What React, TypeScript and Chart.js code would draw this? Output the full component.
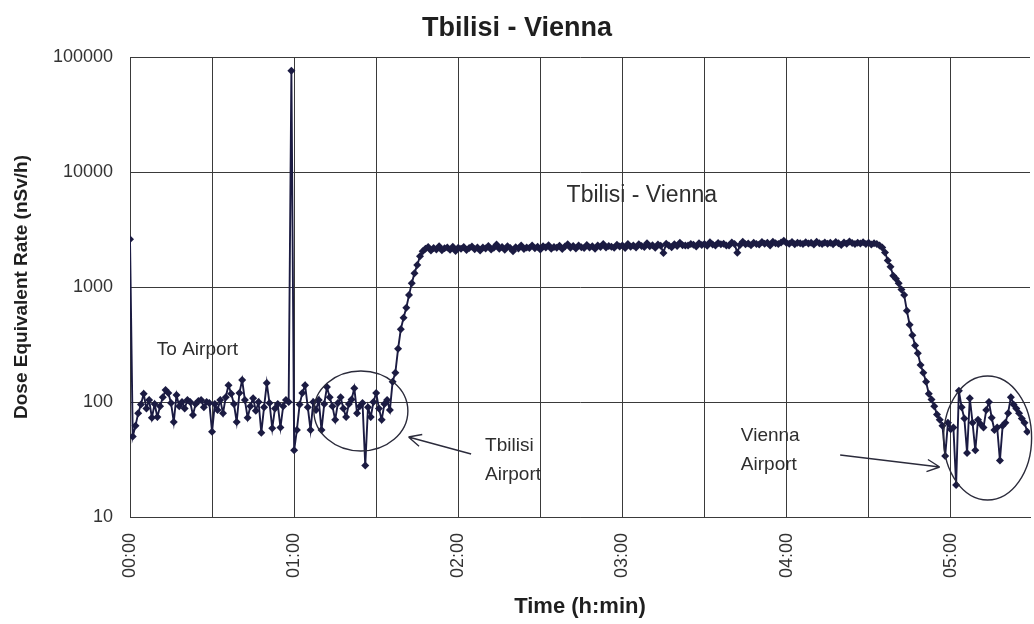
import React, { useEffect, useRef } from "react";
import { Chart, registerables } from "chart.js";

Chart.register(...registerables);

// ---- Text ----
const chartTitle = "Tbilisi - Vienna";
const yAxisTitle = "Dose Equivalent Rate (nSv/h)";
const xAxisTitle = "Time (h:min)";

// ---- Axes ----
const yTickValues = [10, 100, 1000, 10000, 100000];
const hourLabels = ["00:00", "01:00", "02:00", "03:00", "04:00", "05:00"];
const xMaxMinutes = 329;

// ---- Dose equivalent rate (nSv/h), one reading per minute ----
// 00:00 - 01:35 : to airport / Tbilisi airport
const groundTbilisi = [
  2600, 50, 62, 80, 95, 118, 88, 104, 73, 96,
  74, 92, 110, 127, 120, 98, 67, 115, 92, 100,
  88, 104, 100, 77, 96, 102, 104, 90, 100, 98,
  55, 96, 85, 104, 80, 110, 140, 118, 96, 67,
  120, 155, 104, 73, 92, 108, 84, 100, 54, 90,
  146, 98, 59, 88, 96, 60, 92, 104, 100, 76000,
  38, 57, 95, 120, 140, 90, 57, 100, 85, 104,
  57, 96, 135, 110, 92, 70, 98, 110, 88, 74,
  96, 105, 132, 80, 92, 98, 28, 90, 74, 100,
  120, 88, 70, 96, 104, 85,
];
// climb
const climb = [150, 180, 290, 430, 540, 660, 850, 1080, 1320, 1550, 1850, 2050];
// cruise Tbilisi - Vienna
const cruise = [
  2150, 2230, 2080, 2180, 2120, 2260, 2090, 2170, 2200, 2110,
  2240, 2060, 2190, 2150, 2230, 2100, 2180, 2250, 2130, 2200,
  2080, 2210, 2160, 2270, 2120, 2190, 2340, 2150, 2230, 2110,
  2260, 2180, 2050, 2220, 2160, 2290, 2140, 2210, 2180, 2300,
  2170, 2240, 2120, 2260, 2200, 2310, 2150, 2230, 2190, 2280,
  2140, 2250, 2350, 2190, 2270, 2160, 2300, 2220, 2180, 2320,
  2210, 2260, 2150, 2290, 2230, 2360, 2200, 2270, 2240, 2190,
  2330, 2250, 2300, 2180, 2360, 2240, 2290, 2210, 2350, 2270,
  2230, 2400, 2260, 2310, 2190, 2340, 2280, 1980, 2380, 2300,
  2220, 2350, 2270, 2420, 2310, 2300, 2290, 2360, 2330, 2250,
  2400, 2320, 2370, 2280, 2450, 2340, 2300, 2410, 2350, 2380,
  2290, 2290, 2440, 2360, 1990, 2320, 2470, 2350, 2390, 2310,
  2430, 2370, 2340, 2460, 2380, 2420, 2300, 2480, 2400, 2360,
  2440, 2520, 2410, 2380, 2460, 2350, 2430, 2400, 2370, 2450,
  2390, 2420, 2340, 2470, 2400, 2360, 2440, 2380, 2420, 2350,
  2460, 2400, 2320, 2440, 2380, 2490, 2410, 2360, 2430, 2390,
  2450, 2370, 2420, 2340, 2400, 2360, 2300, 2200,
];
// descent
const descent = [
  2000, 1700, 1500, 1250, 1180, 1080, 950, 850, 620, 470,
  380, 310, 265, 210, 180, 150, 118, 105, 92, 78, 70,
];
// Vienna airport
const groundVienna = [
  62, 34, 66, 58, 60, 19, 125, 90, 72, 36,
  108, 66, 38, 70, 64, 60, 85, 100, 73, 57,
  60, 31, 62, 66, 80, 110, 95, 88, 80, 72,
  66, 55,
];

const doseRate = [...groundTbilisi, ...climb, ...cruise, ...descent, ...groundVienna];

// ---- Annotations (time in minutes, value in nSv/h) ----
const annotationTexts = [
  { t: 9.8, v: 283, lines: ["To Airport"], size: 19 },
  { t: 159.6, v: 6180, lines: ["Tbilisi - Vienna"], size: 23 },
  { t: 129.8, v: 41.4, lines: ["Tbilisi", "Airport"], size: 19 },
  { t: 223.3, v: 50.6, lines: ["Vienna", "Airport"], size: 19 },
];
const ellipses = [
  { t: 84.4, v: 83.5, rx: 47, ry: 40 },
  { t: 313.5, v: 48.6, rx: 44, ry: 62 },
];
const arrows = [
  { t0: 124.7, v0: 35.3, t1: 101.8, v1: 49.6 },
  { t0: 259.6, v0: 34.6, t1: 296, v1: 27.2 },
];

const FONT = '"Liberation Sans", Arial, sans-serif';
const INK = "#1b1b42";
const GRID = "#3a3a3a";

const annotationPlugin = {
  id: "flightAnnotations",
  afterDatasetsDraw(chart: any) {
    const { ctx } = chart;
    const xs = chart.scales.x;
    const ys = chart.scales.y;
    ctx.save();
    ctx.strokeStyle = "#2b2b3b";
    ctx.lineWidth = 1.4;
    for (const e of ellipses) {
      ctx.beginPath();
      ctx.ellipse(xs.getPixelForValue(e.t), ys.getPixelForValue(e.v), e.rx, e.ry, 0, 0, Math.PI * 2);
      ctx.stroke();
    }
    for (const a of arrows) {
      const x0 = xs.getPixelForValue(a.t0);
      const y0 = ys.getPixelForValue(a.v0);
      const x1 = xs.getPixelForValue(a.t1);
      const y1 = ys.getPixelForValue(a.v1);
      ctx.beginPath();
      ctx.moveTo(x0, y0);
      ctx.lineTo(x1, y1);
      const ang = Math.atan2(y1 - y0, x1 - x0);
      const len = 14;
      for (const d of [0.45, -0.45]) {
        ctx.moveTo(x1, y1);
        ctx.lineTo(x1 - len * Math.cos(ang + d), y1 - len * Math.sin(ang + d));
      }
      ctx.stroke();
    }
    ctx.fillStyle = "#2e2e2e";
    ctx.textAlign = "left";
    ctx.textBaseline = "middle";
    for (const a of annotationTexts) {
      ctx.font = `${a.size}px ${FONT}`;
      const x = xs.getPixelForValue(a.t);
      const y = ys.getPixelForValue(a.v);
      a.lines.forEach((line, i) => ctx.fillText(line, x, y + i * 29));
    }
    ctx.restore();
  },
};

export default function App() {
  const canvasRef = useRef<HTMLCanvasElement | null>(null);

  useEffect(() => {
    if (!canvasRef.current) return;
    const chart = new Chart(canvasRef.current, {
      type: "line",
      data: {
        datasets: [
          {
            data: doseRate.map((v, i) => ({ x: i, y: v })),
            borderColor: INK,
            backgroundColor: INK,
            borderWidth: 1.9,
            pointStyle: "rectRot",
            pointRadius: 4,
            pointBorderWidth: 0,
            pointBackgroundColor: INK,
            tension: 0,
          },
        ],
      },
      options: {
        animation: false,
        responsive: false,
        events: [],
        layout: { padding: 0 },
        plugins: {
          legend: { display: false },
          tooltip: { enabled: false },
          title: {
            display: true,
            text: chartTitle,
            color: "#1f1f1f",
            font: { family: FONT, size: 27, weight: "bold" },
            padding: { top: 12, bottom: 12.6 },
          },
        },
        scales: {
          x: {
            type: "linear",
            min: 0,
            max: xMaxMinutes,
            grid: { color: GRID, lineWidth: 1, drawTicks: false },
            border: { color: GRID },
            ticks: {
              stepSize: 30,
              includeBounds: false,
              autoSkip: false,
              minRotation: 90,
              maxRotation: 90,
              padding: 16,
              color: "#333",
              font: { family: FONT, size: 18 },
              callback: (value: any) => {
                const v = Number(value);
                return v % 60 === 0 ? hourLabels[v / 60] ?? "" : "";
              },
            },
            title: {
              display: true,
              text: xAxisTitle,
              color: "#1f1f1f",
              font: { family: FONT, size: 22, weight: "bold" },
              padding: { top: 0, bottom: 4 },
            },
            afterFit: (scale: any) => {
              scale.height = 107;
            },
          },
          y: {
            type: "logarithmic",
            min: 10,
            max: 100000,
            grid: { color: GRID, lineWidth: 1, drawTicks: false },
            border: { color: GRID },
            afterBuildTicks: (scale: any) => {
              scale.ticks = yTickValues.map((value) => ({ value }));
            },
            ticks: {
              padding: 17,
              color: "#333",
              font: { family: FONT, size: 18 },
              callback: (value: any) => String(value),
            },
            title: {
              display: true,
              text: yAxisTitle,
              color: "#1f1f1f",
              font: { family: FONT, size: 19, weight: "bold" },
              padding: { top: 10, bottom: 0 },
            },
            afterFit: (scale: any) => {
              scale.width = 130;
            },
          },
        },
      },
      plugins: [annotationPlugin],
    });
    return () => chart.destroy();
  }, []);

  return (
    <div style={{ position: "absolute", left: 0, top: 0, width: 1034, height: 624, background: "#fff" }}>
      <canvas ref={canvasRef} width={1034} height={624} style={{ width: 1034, height: 624 }} />
    </div>
  );
}
